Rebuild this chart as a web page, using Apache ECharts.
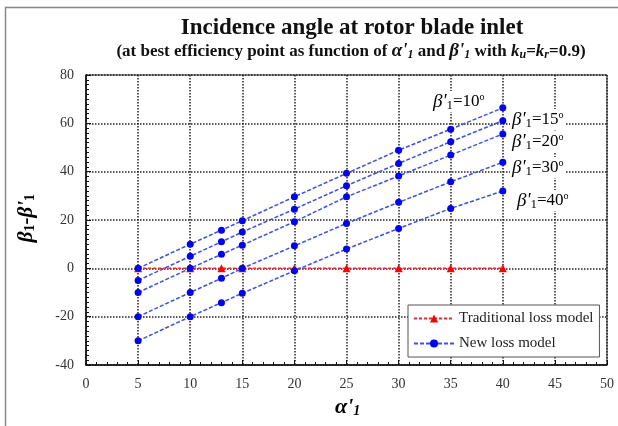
<!DOCTYPE html>
<html>
<head>
<meta charset="utf-8">
<script src="https://cdn.jsdelivr.net/npm/echarts@6/dist/echarts.min.js"></script>
<style>
  html, body { margin: 0; padding: 0; background: #fff; }
  #main { width: 618px; height: 426px; }
</style>
</head>
<body>
<div id="main"></div>
<script>
// alpha'1 values (deg) where points were computed
const alpha = [5, 10, 13, 15, 20, 25, 30, 35, 40];
const traditional = [0, 0, 0, 0, 0, 0, 0, 0, 0];
const beta10 = [0, 10, 15.8, 19.7, 29.6, 39.3, 48.9, 57.6, 66.4];
const beta15 = [-5, 5, 11, 15, 24.5, 34.2, 43.4, 52.4, 61.1];
const beta20 = [-10, 0, 5.8, 9.6, 19.3, 29.6, 38.2, 46.9, 55.6];
const beta30 = [-20, -10, -4.1, 0, 9.3, 18.6, 27.3, 35.8, 43.9];
const beta40 = [-30, -20, -14.2, -10.3, -1, 8, 16.5, 24.8, 32];
const newModel = [beta10, beta15, beta20, beta30, beta40];

const serif = 'Liberation Serif';
const chart = echarts.init(document.getElementById('main'));

function pairs(ys) {
  return alpha.map((a, i) => [a, ys[i]]);
}

const blueSeries = newModel.map(ys => ({
  name: 'New loss model',
  type: 'line',
  data: pairs(ys),
  symbol: 'circle',
  symbolSize: 7,
  z: 3,
  itemStyle: { color: '#0000ff' },
  lineStyle: { color: '#3a4dff', width: 1.5, type: [4, 2] }
}));

// rich styles for beta'1 labels
const lblRich = {
  g: { fontFamily: serif, fontStyle: 'italic', fontSize: 19, color: '#444' },
  s: { fontFamily: serif, fontSize: 13, color: '#444', padding: [8, 0, 0, 0] },
  t: { fontFamily: serif, fontSize: 17, color: '#444' },
  d: { fontFamily: serif, fontSize: 10, color: '#444', padding: [0, 0, 8, 0] }
};
function betaLabel(txt, x, y) {
  return {
    type: 'text', left: x, top: y, z: 10,
    style: {
      text: "{g|β'}{s|1}{t|=" + txt + "}{d|o}",
      rich: lblRich,
      backgroundColor: '#fff',
      padding: [0, 2]
    }
  };
}

chart.setOption({
  backgroundColor: '#fff',
  animation: false,
  title: [
    {
      text: 'Incidence angle at rotor blade inlet',
      left: 347, top: 12, textAlign: 'center',
      textStyle: { fontFamily: serif, fontWeight: 'bold', fontSize: 23, color: '#111' }
    },
    {
      text: "{b|(at best efficiency point as function of }{g|α'}{s|1}{b| and }{g|β'}{s|1}{b| with }{k|k}{s|u}{b|=}{k|k}{s|r}{b|=0.9)}",
      left: 346, top: 37, textAlign: 'center',
      textStyle: {
        rich: {
          b: { fontFamily: serif, fontWeight: 'bold', fontSize: 17, color: '#111' },
          g: { fontFamily: serif, fontStyle: 'italic', fontSize: 19, color: '#111' },
          k: { fontFamily: serif, fontStyle: 'italic', fontWeight: 'bold', fontSize: 17, color: '#111' },
          s: { fontFamily: serif, fontStyle: 'italic', fontWeight: 'bold', fontSize: 12, color: '#111', padding: [7, 0, 0, 0] }
        }
      }
    }
  ],
  grid: {
    left: 86, right: 11, top: 75, bottom: 61,
    show: true, borderColor: '#222', borderWidth: 1
  },
  legend: {
    left: 408, top: 305,
    orient: 'vertical',
    data: ['Traditional loss model', 'New loss model'],
    itemWidth: 40, itemHeight: 10, itemGap: 10,
    padding: [6, 6, 6, 5],
    backgroundColor: '#fff',
    borderColor: '#555', borderWidth: 1,
    textStyle: { fontFamily: serif, fontSize: 15, color: '#222' }
  },
  xAxis: {
    type: 'value', min: 0, max: 50, interval: 5,
    axisLine: { onZero: false, lineStyle: { color: '#111', width: 1.5 } },
    axisTick: { inside: true, length: 5, lineStyle: { color: '#111' } },
    minorTick: { show: true, splitNumber: 5, length: 3, lineStyle: { color: '#111' } },
    axisLabel: { fontFamily: serif, fontSize: 14, color: '#333', margin: 12 },
    splitLine: { lineStyle: { color: '#222', type: 'dotted', width: 1.5 } }
  },
  yAxis: {
    type: 'value', min: -40, max: 80, interval: 20,
    axisLine: { show: true, lineStyle: { color: '#111', width: 1.5 } },
    axisTick: { show: true, inside: true, length: 5, lineStyle: { color: '#111' } },
    minorTick: { show: true, splitNumber: 10, length: 3, lineStyle: { color: '#111' } },
    axisLabel: { fontFamily: serif, fontSize: 14, color: '#333', margin: 12 },
    splitLine: { lineStyle: { color: '#222', type: 'dotted', width: 1.5 } }
  },
  graphic: [
    {
      type: 'rect', left: 3, top: 5, z: -1, silent: true,
      shape: { width: 640, height: 440 },
      style: { fill: 'none', stroke: '#888', lineWidth: 1.5 }
    },
    {
      type: 'text', left: 16, top: 194, rotation: Math.PI / 2, z: 10,
      style: {
        text: "{g|β}{s|1}{g|-β'}{s|1}",
        rich: {
          g: { fontFamily: serif, fontStyle: 'italic', fontWeight: 'bold', fontSize: 21, color: '#111' },
          s: { fontFamily: serif, fontWeight: 'bold', fontSize: 14, color: '#111', padding: [8, 0, 0, 0] }
        }
      }
    },
    {
      type: 'text', left: 335, top: 396, z: 10,
      style: {
        text: "{g|α'}{s|1}",
        rich: {
          g: { fontFamily: serif, fontStyle: 'italic', fontWeight: 'bold', fontSize: 22, color: '#111' },
          s: { fontFamily: serif, fontStyle: 'italic', fontWeight: 'bold', fontSize: 14, color: '#111', padding: [8, 0, 0, 0] }
        }
      }
    },
    betaLabel('10', 431, 91),
    betaLabel('15', 510, 109),
    betaLabel('20', 510, 131),
    betaLabel('30', 510, 157),
    betaLabel('40', 515, 190)
  ],
  series: [
    {
      name: 'Traditional loss model',
      type: 'line',
      data: pairs(traditional),
      symbol: 'triangle',
      symbolSize: 8,
      z: 2,
      itemStyle: { color: '#ff0000' },
      lineStyle: { color: '#ff2020', width: 1.5, type: [3, 2] }
    }
  ].concat(blueSeries)
});
</script>
</body>
</html>
